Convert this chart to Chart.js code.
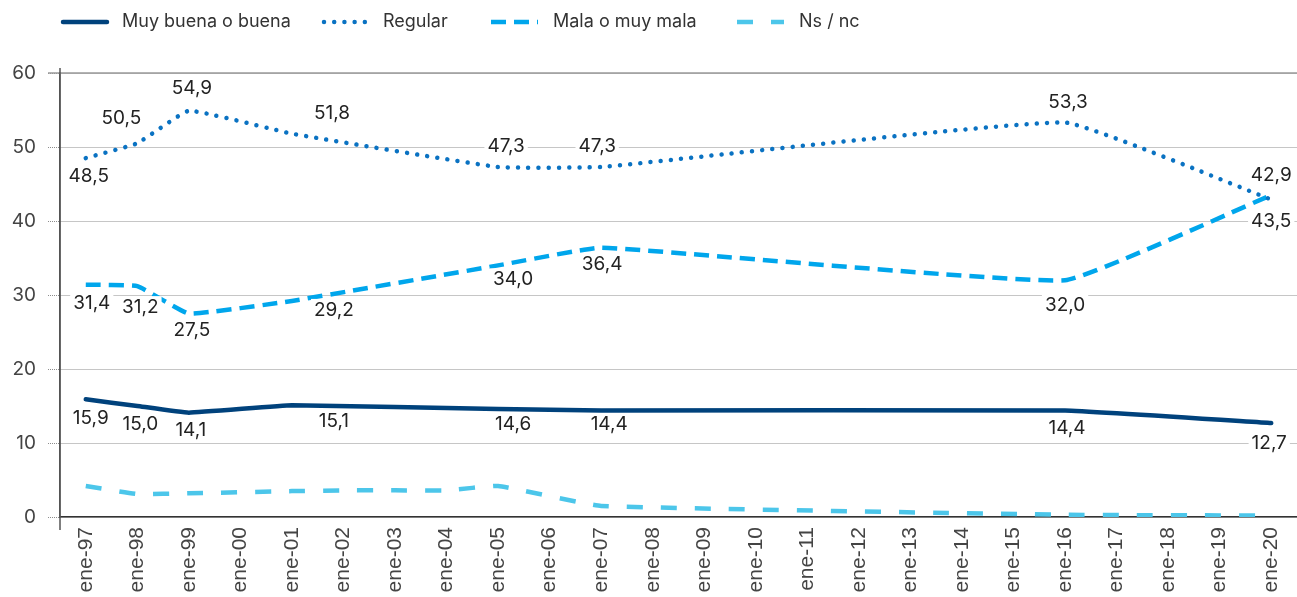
<!DOCTYPE html>
<html>
<head>
<meta charset="utf-8">
<script src="https://cdn.jsdelivr.net/npm/chart.js@4/dist/chart.umd.min.js"></script>
<style>
  html, body { margin: 0; padding: 0; background: #fff; }
  #wrap { width: 1297px; height: 597px; position: relative; }
</style>
</head>
<body>
<div id="wrap"><canvas id="c" width="1297" height="597"></canvas></div>
<script>
// ---- data ----
const categories = ['ene-97','ene-98','ene-99','ene-00','ene-01','ene-02','ene-03','ene-04','ene-05','ene-06','ene-07','ene-08','ene-09','ene-10','ene-11','ene-12','ene-13','ene-14','ene-15','ene-16','ene-17','ene-18','ene-19','ene-20'];
const seriesNames = ['Muy buena o buena', 'Regular', 'Mala o muy mala', 'Ns / nc'];
const muyBuena = [15.9, 15.0, 14.1, null, 15.1, null, null, null, 14.6, null, 14.4, null, null, null, null, null, null, null, null, 14.4, null, null, null, 12.7];
const regular  = [48.5, 50.5, 54.9, null, 51.8, null, null, null, 47.3, null, 47.3, null, null, null, null, null, null, null, null, 53.3, null, null, null, 42.9];
const mala     = [31.4, 31.2, 27.5, null, 29.2, null, null, null, 34.0, null, 36.4, null, null, null, null, null, null, null, null, 32.0, null, null, null, 43.5];
const nsnc     = [4.2, 3.1, 3.2, null, 3.5, 3.6, 3.6, 3.6, 4.2, null, 1.5, null, null, null, null, null, null, null, null, 0.3, null, null, null, 0.2];
const yTickValues = [0, 10, 20, 30, 40, 50, 60];

// ---- label placement (pixel offsets from each point) ----
const labelOffsets = [
  {0:[5,18], 1:[3,17], 2:[2,17], 4:[42,15], 8:[15,14], 10:[8,13], 19:[2,17], 23:[-2,19]},
  {0:[3,17], 1:[-16,-26], 2:[3,-23], 4:[40,-21], 8:[8,-22], 10:[-4,-22], 19:[3,-21], 23:[0,-25]},
  {0:[6,18], 1:[3,20], 2:[3,16], 4:[42,8], 8:[15,13], 10:[1,16], 19:[0,24], 23:[0,25]},
  {}
];
const legendX = [60, 321, 491, 737];

const FONT = 'Inter, "Noto Sans", sans-serif';

const labelPlugin = {
  id: 'valueLabels',
  afterDatasetsDraw(chart) {
    const ctx = chart.ctx;
    ctx.save();
    ctx.font = '19px ' + FONT;
    ctx.textAlign = 'center';
    ctx.textBaseline = 'middle';
    chart.data.datasets.forEach((ds, di) => {
      const meta = chart.getDatasetMeta(di);
      const offs = labelOffsets[di] || {};
      ds.data.forEach((v, i) => {
        if (v === null || !offs[i]) return;
        const el = meta.data[i];
        const x = el.x + offs[i][0];
        const y = el.y + offs[i][1];
        const txt = v.toFixed(1).replace('.', ',');
        const w = ctx.measureText(txt).width;
        ctx.fillStyle = '#ffffff';
        ctx.fillRect(x - w / 2 - 3, y - 10, w + 6, 20);
        ctx.fillStyle = '#222222';
        ctx.fillText(txt, x, y + 1);
      });
    });
    ctx.restore();
  }
};

const framePlugin = {
  id: 'frameExtras',
  beforeDatasetsDraw(chart) {
    const ctx = chart.ctx;
    const a = chart.chartArea;
    const ys = chart.scales.y;
    const yTop = ys.getPixelForValue(60);
    ctx.save();
    ctx.strokeStyle = '#9a9a9a';
    ctx.lineWidth = 1.5;
    ctx.beginPath();
    ctx.moveTo(a.left - 12, yTop);
    ctx.lineTo(a.right, yTop);
    ctx.stroke();
    ctx.strokeStyle = '#555';
    ctx.lineWidth = 1.5;
    ctx.beginPath();
    ctx.moveTo(a.left, yTop - 5);
    ctx.lineTo(a.left, a.bottom + 13);
    ctx.stroke();
    ctx.restore();
  },
  afterDraw(chart) {
    const ctx = chart.ctx;
    ctx.save();
    chart.data.datasets.forEach((ds, i) => {
      const x0 = legendX[i];
      const y = 22;
      ctx.strokeStyle = ds.borderColor;
      ctx.lineWidth = ds.borderWidth;
      ctx.lineCap = ds.borderCapStyle || 'butt';
      ctx.setLineDash(ds.borderDash || []);
      ctx.beginPath();
      ctx.moveTo(x0 + (ds.borderCapStyle === 'round' ? 3 : 0), y);
      ctx.lineTo(x0 + 47, y);
      ctx.stroke();
      ctx.setLineDash([]);
      ctx.fillStyle = '#333';
      ctx.font = '18px ' + FONT;
      ctx.textAlign = 'left';
      ctx.textBaseline = 'middle';
      ctx.fillText(ds.label, x0 + 62, y);
    });
    ctx.restore();
  }
};

new Chart(document.getElementById('c'), {
  type: 'line',
  data: {
    labels: categories,
    datasets: [
      { label: seriesNames[0], data: muyBuena, borderColor: '#00427c', borderWidth: 4.5, borderCapStyle: 'round' },
      { label: seriesNames[1], data: regular, borderColor: '#0a72c2', borderWidth: 4.5, borderDash: [0.01, 10.2], borderCapStyle: 'round' },
      { label: seriesNames[2], data: mala, borderColor: '#00a6ec', borderWidth: 4.5, borderDash: [15, 8], borderCapStyle: 'butt' },
      { label: seriesNames[3], data: nsnc, borderColor: '#4cc6ea', borderWidth: 4.5, borderDash: [16, 18], borderCapStyle: 'butt' }
    ].map(d => Object.assign({ fill: false, pointRadius: 0, pointHoverRadius: 0, spanGaps: true, tension: 0.1 }, d))
  },
  options: {
    responsive: false,
    devicePixelRatio: 1,
    animation: false,
    layout: { padding: { top: 73, left: 0, right: 0, bottom: 0 } },
    plugins: { legend: { display: false }, tooltip: { enabled: false } },
    scales: {
      x: {
        offset: true,
        grid: { display: false, drawTicks: false },
        border: { display: true, color: '#333', width: 1.5 },
        ticks: {
          autoSkip: false, minRotation: 90, maxRotation: 90, padding: 10,
          color: '#444', font: { family: '"Liberation Sans", Arial, sans-serif', size: 21 }
        },
        afterFit(s) { s.height = 80; s.paddingLeft = 0; s.paddingRight = 0; }
      },
      y: {
        min: 0, max: 60,
        afterBuildTicks(s) { s.ticks = yTickValues.map(v => ({ value: v })); },
        grid: { color: '#8c8c8c', lineWidth: 1, tickLength: 12, tickColor: '#8c8c8c', tickBorderDash: [1, 1] },
        border: { display: true, color: '#555', width: 1.5, dash: [1, 1] },
        ticks: { padding: 12, color: '#444', font: { family: FONT, size: 19 } },
        afterFit(s) { s.width = 60; }
      }
    }
  },
  plugins: [framePlugin, labelPlugin]
});
</script>
</body>
</html>
